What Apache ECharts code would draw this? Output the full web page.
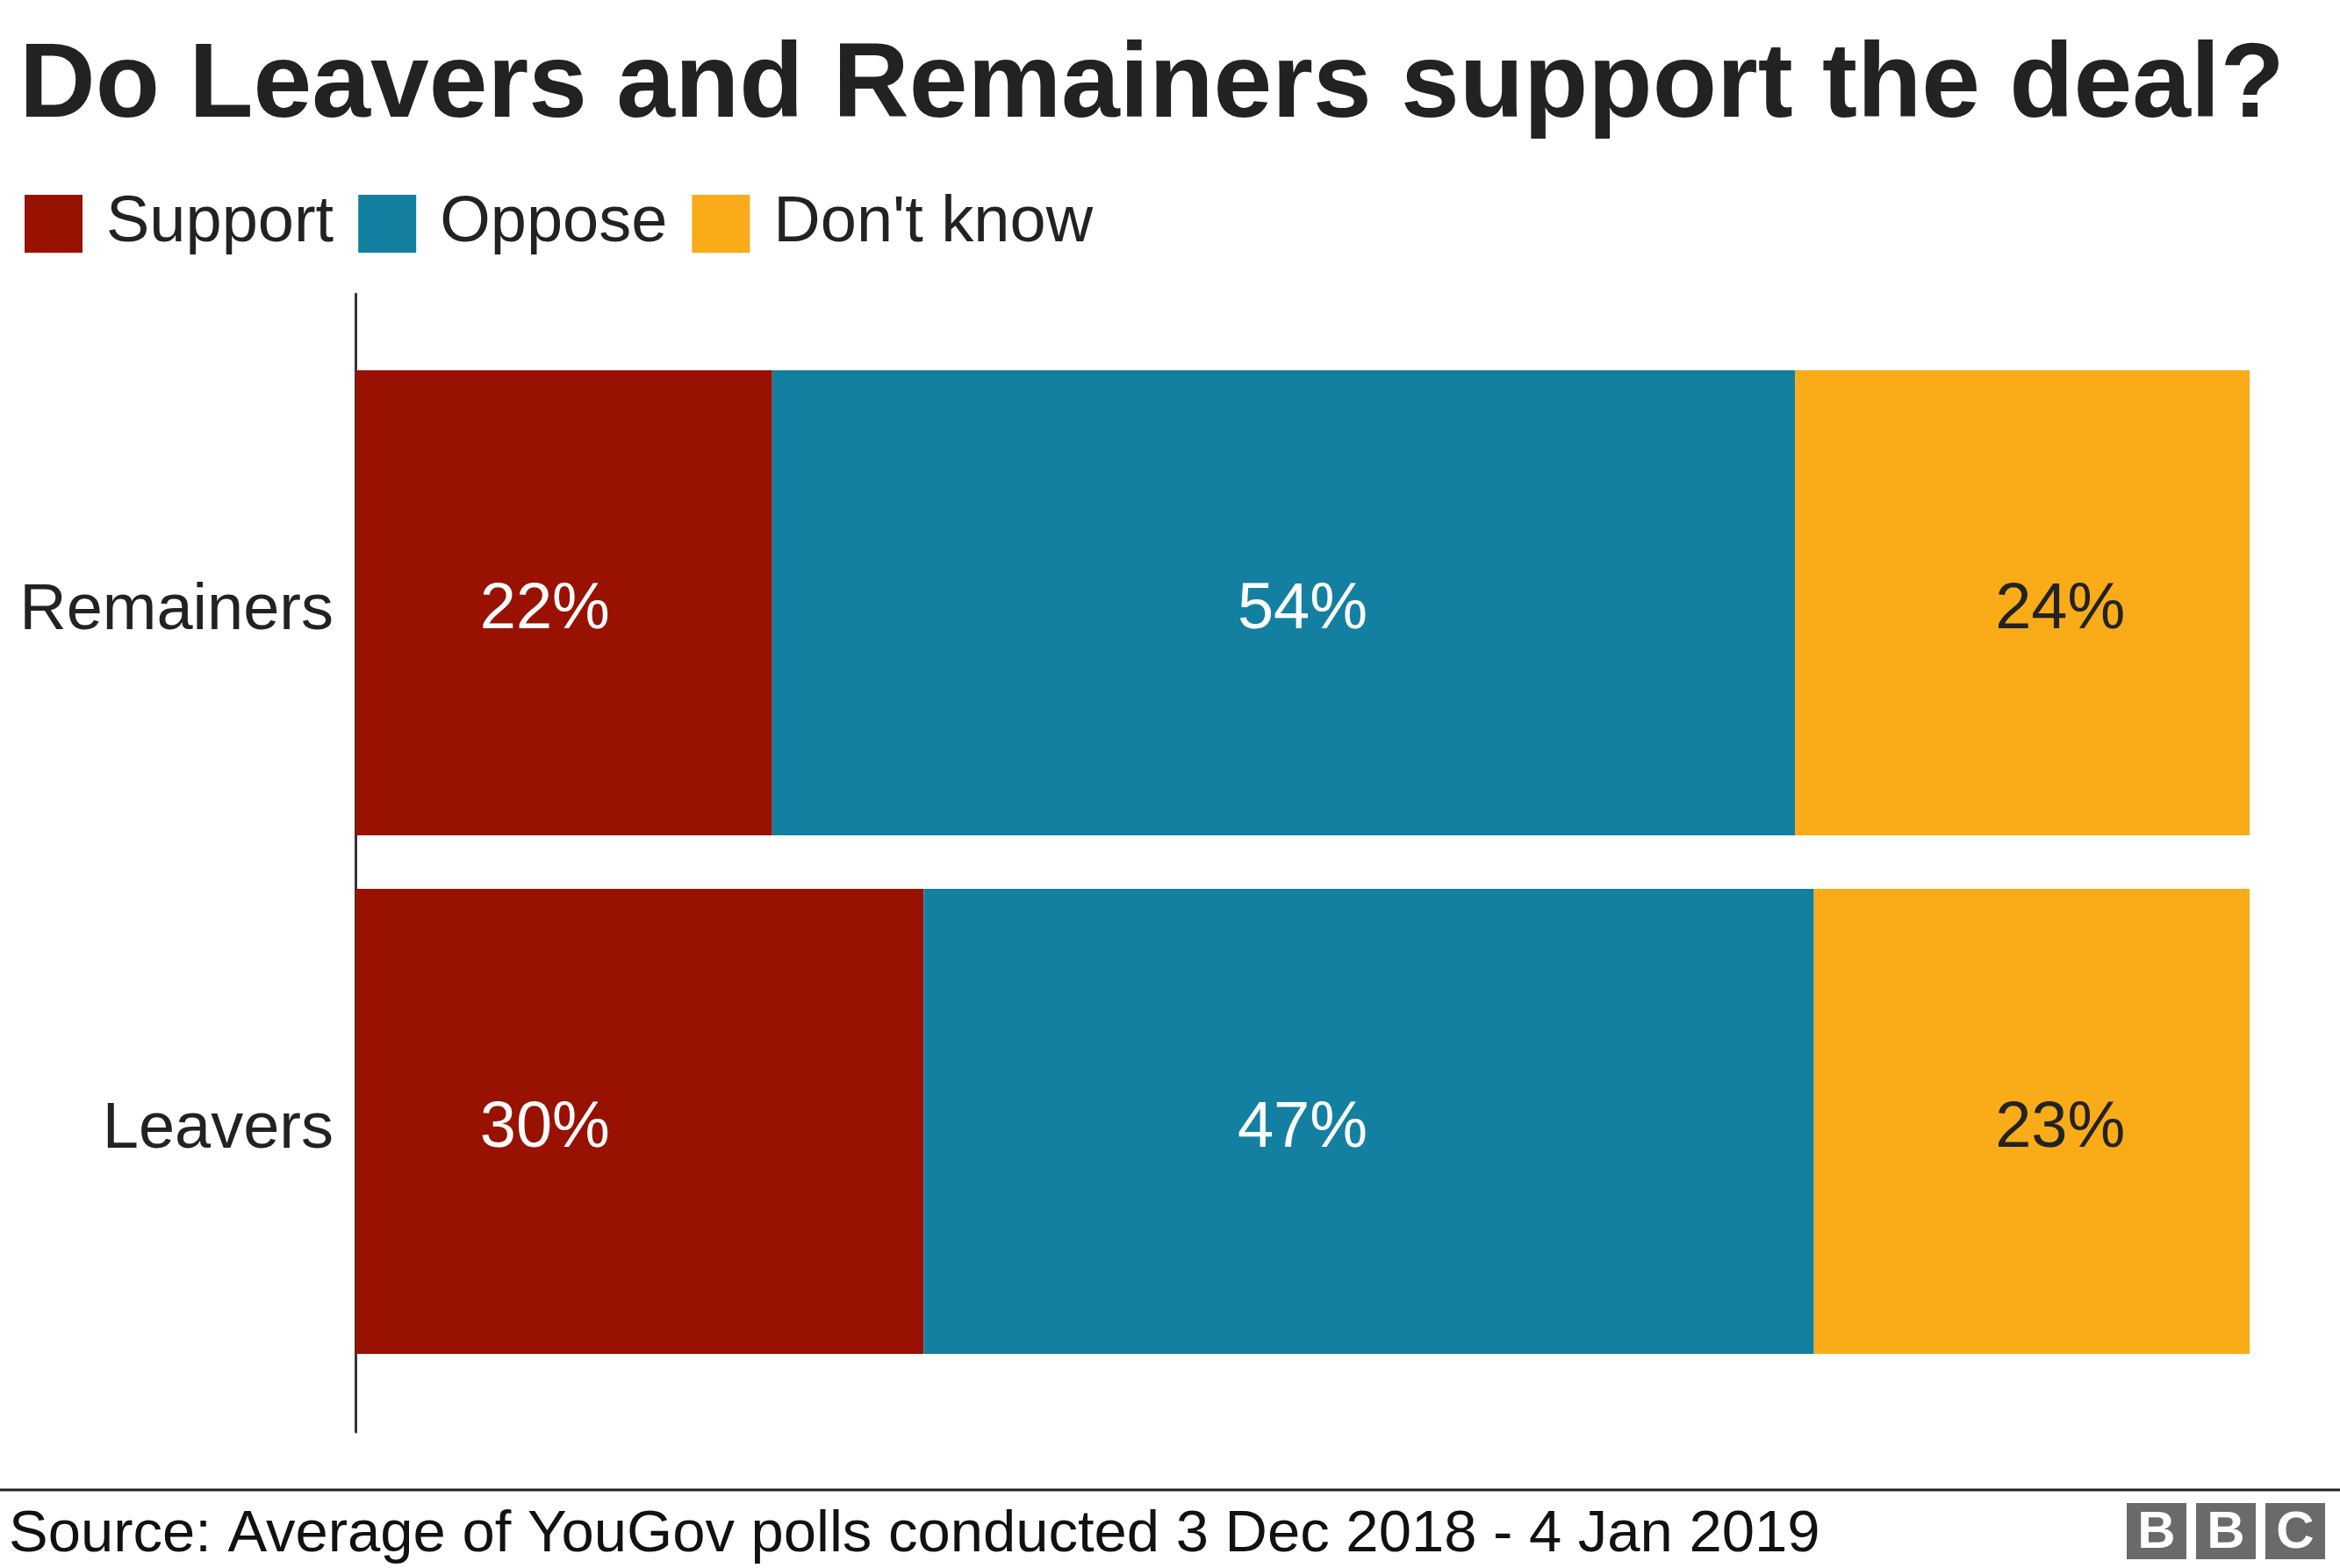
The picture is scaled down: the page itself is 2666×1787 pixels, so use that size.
<!DOCTYPE html>
<html>
<head>
<meta charset="utf-8">
<script src="https://cdn.jsdelivr.net/npm/echarts@6/dist/echarts.min.js"></script>
<style>
html,body{margin:0;padding:0;background:#fff;}
#c{width:2666px;height:1787px;}
</style>
</head>
<body>
<div id="c"></div>
<script>
const categories = ['Remainers', 'Leavers'];
const seriesNames = ['Support', 'Oppose', "Don't know"];
const support = [22, 30];
const oppose = [54, 47];
const dontKnow = [24, 23];
const colors = ['#991100', '#1380A1', '#FAAB18'];
const labelColors = ['#ffffff', '#ffffff', '#222222'];
const labelAt = [10, 50, 90];

const FONT = '"Liberation Sans", Arial, Helvetica, sans-serif';
const values = [support, oppose, dontKnow];

const chart = echarts.init(document.getElementById('c'));

const barSeries = seriesNames.map((name, i) => ({
  name: name,
  type: 'bar',
  stack: 'total',
  xAxisIndex: 0,
  yAxisIndex: 0,
  barCategoryGap: '10.3%',
  itemStyle: { color: colors[i] },
  emphasis: { disabled: true },
  data: values[i]
}));

const labelSeries = seriesNames.map((name, i) => ({
  name: name + ' label',
  type: 'scatter',
  xAxisIndex: 0,
  yAxisIndex: 0,
  symbolSize: 0,
  silent: true,
  z: 5,
  itemStyle: { opacity: 1 },
  label: {
    show: true,
    position: 'inside',
    offset: [0, 9],
    opacity: 1,
    formatter: p => p.value[2] + '%',
    color: labelColors[i],
    fontSize: 74,
    fontFamily: FONT
  },
  data: categories.map((c, j) => [labelAt[i], c, values[i][j]])
}));

chart.setOption({
  animation: false,
  backgroundColor: '#ffffff',
  title: {
    text: 'Do Leavers and Remainers support the deal?',
    left: 22,
    top: 40,
    padding: 0,
    textStyle: { fontSize: 120, fontWeight: 'bold', color: '#222222', fontFamily: FONT }
  },
  legend: {
    data: seriesNames,
    left: 28,
    top: 218,
    padding: 0,
    icon: 'rect',
    itemWidth: 66,
    itemHeight: 66,
    itemGap: 28,
    selectedMode: false,
    textStyle: { fontSize: 74, color: '#222222', fontFamily: FONT, padding: [4, 0, 0, 22], lineHeight: 66 }
  },
  grid: [
    { left: 405, right: 103, top: 391.5, height: 1182 },
    { left: 405, right: 103, top: 335, bottom: 155 }
  ],
  xAxis: [
    { type: 'value', gridIndex: 0, min: 0, max: 100, show: false },
    { type: 'value', gridIndex: 1, min: 0, max: 100, show: false }
  ],
  yAxis: [
    {
      type: 'category', gridIndex: 0, data: categories, inverse: true,
      axisLine: { show: false }, axisTick: { show: false },
      axisLabel: { fontSize: 74, color: '#222222', fontFamily: FONT, margin: 25, verticalAlign: 'top', lineHeight: 20 }
    },
    {
      type: 'value', gridIndex: 1, min: 0, max: 1,
      axisLine: { show: true, lineStyle: { color: '#333333', width: 3 } },
      axisTick: { show: false }, axisLabel: { show: false }, splitLine: { show: false }
    }
  ],
  series: barSeries.concat(labelSeries),
  graphic: [
    { type: 'line', shape: { x1: 0, y1: 1698, x2: 2666, y2: 1698 }, style: { stroke: '#222222', lineWidth: 3 } },
    { type: 'text', style: { text: 'Source: Average of YouGov polls conducted 3 Dec 2018 - 4 Jan 2019', x: 10, y: 1750, font: '67px ' + FONT, fill: '#111111', verticalAlign: 'middle' } },
    { type: 'rect', shape: { x: 2423, y: 1713, width: 68, height: 64 }, style: { fill: '#6a6a6a' } },
    { type: 'rect', shape: { x: 2502, y: 1713, width: 68, height: 64 }, style: { fill: '#6a6a6a' } },
    { type: 'rect', shape: { x: 2581, y: 1713, width: 68, height: 64 }, style: { fill: '#6a6a6a' } },
    { type: 'text', style: { text: 'B', x: 2457, y: 1747, font: 'bold 60px ' + FONT, fill: '#ffffff', align: 'center', verticalAlign: 'middle' } },
    { type: 'text', style: { text: 'B', x: 2536, y: 1747, font: 'bold 60px ' + FONT, fill: '#ffffff', align: 'center', verticalAlign: 'middle' } },
    { type: 'text', style: { text: 'C', x: 2615, y: 1747, font: 'bold 60px ' + FONT, fill: '#ffffff', align: 'center', verticalAlign: 'middle' } }
  ]
});
</script>
</body>
</html>
